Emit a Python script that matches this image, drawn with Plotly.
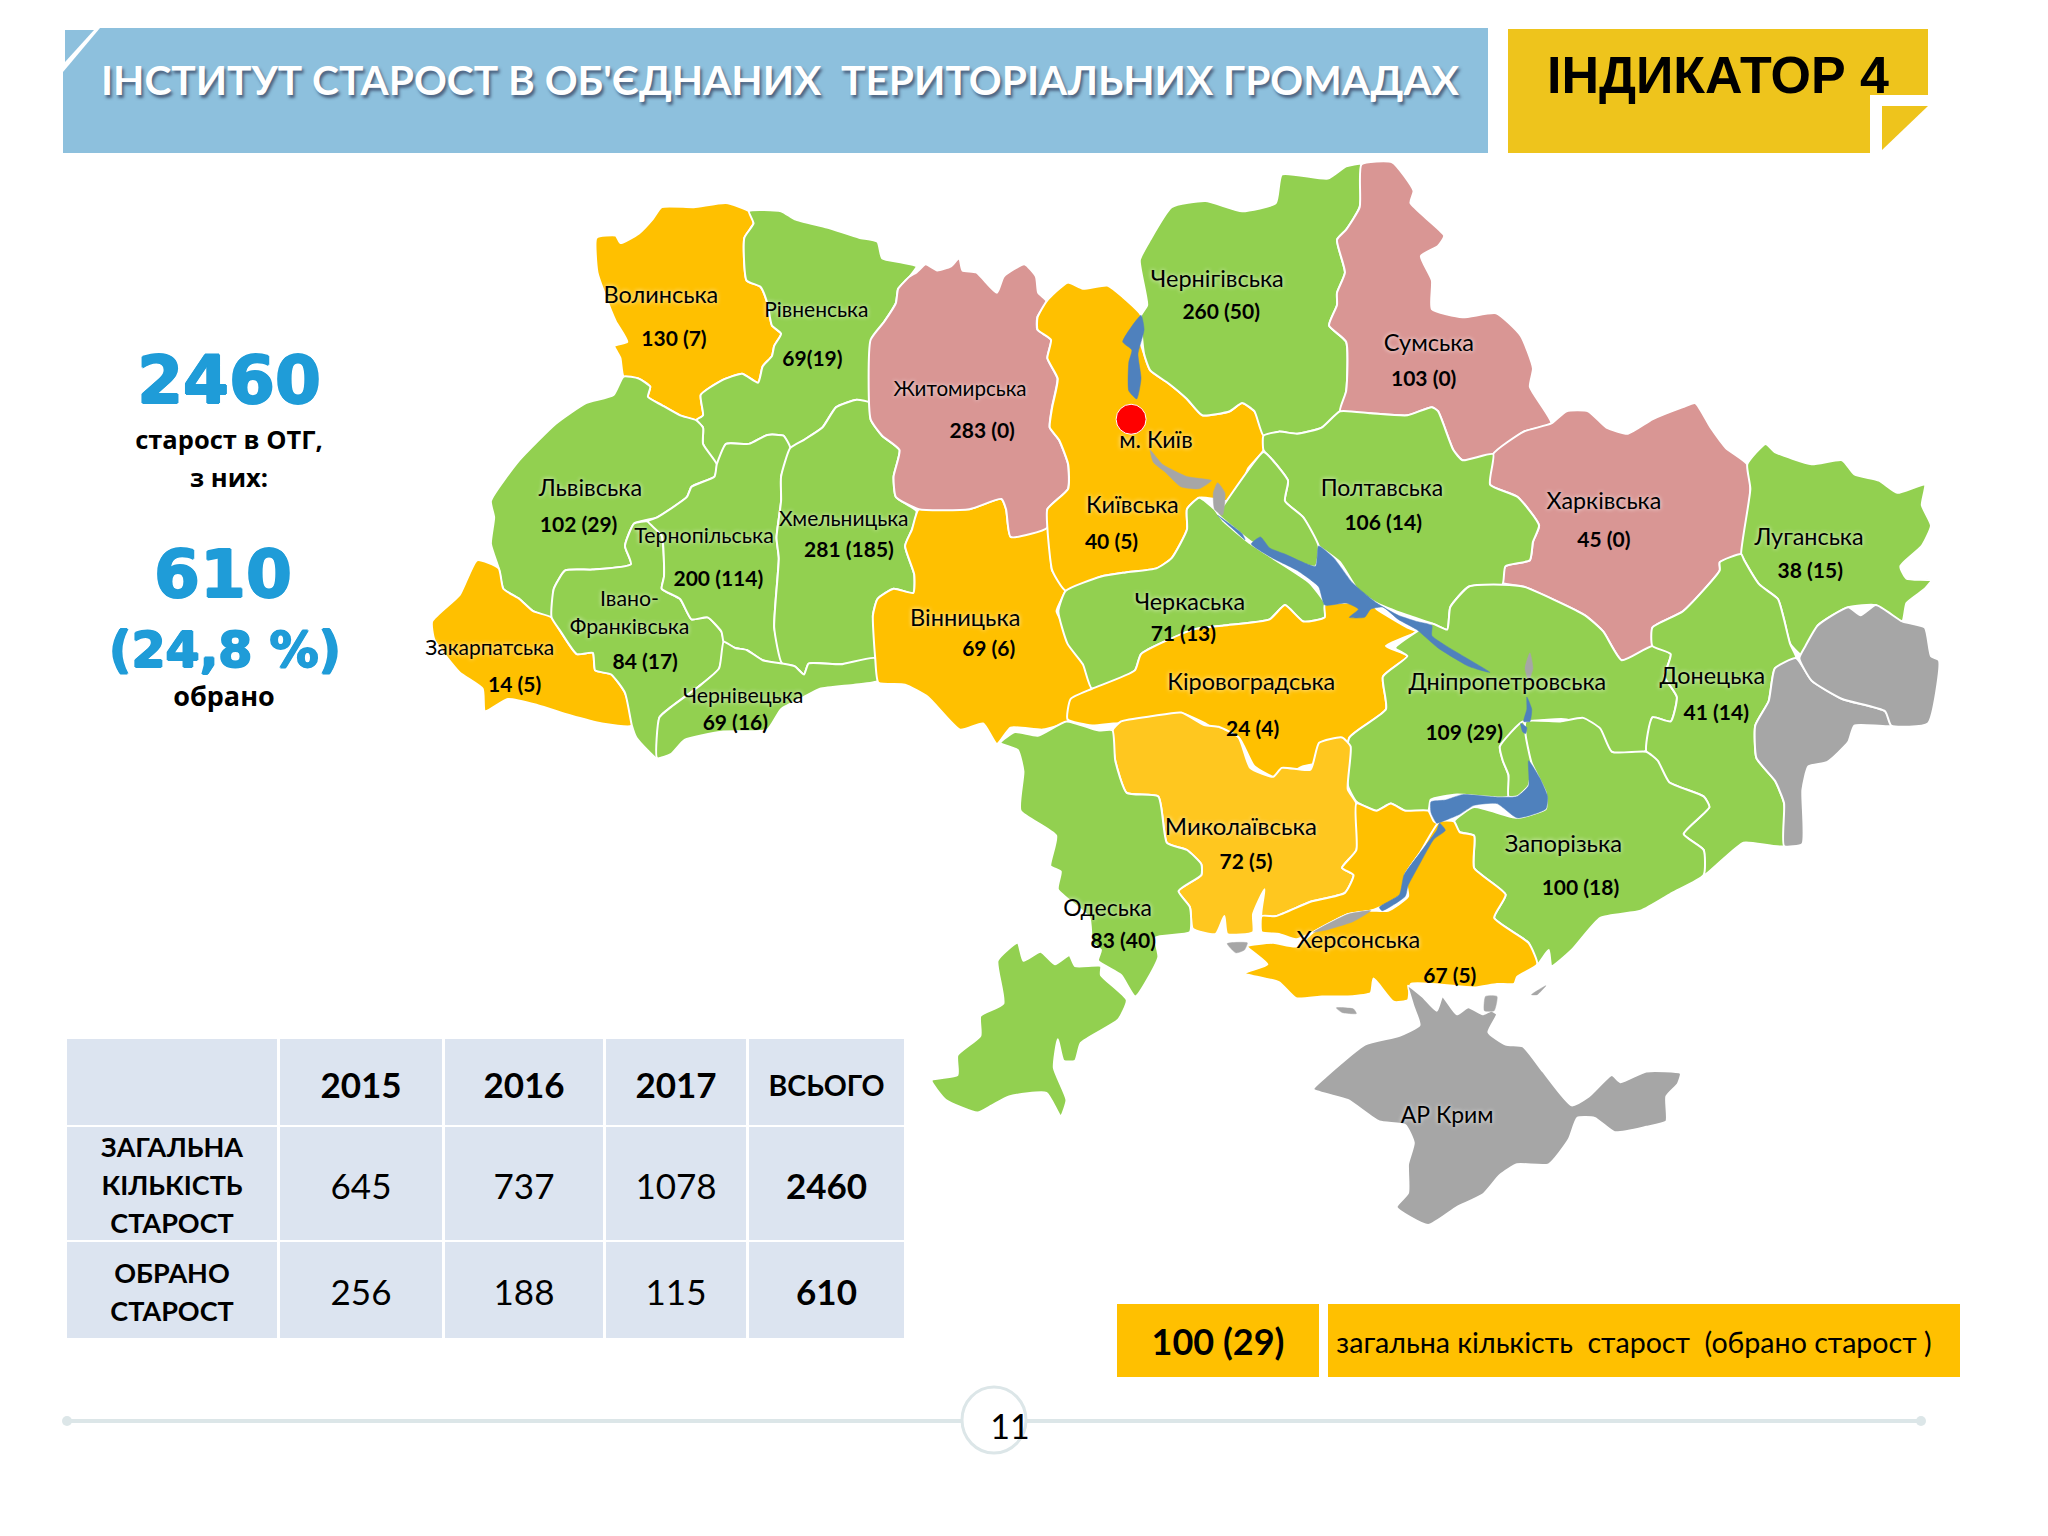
import plotly.graph_objects as go

GREEN = "#92D050"
ORANGE = "#FFC000"
LIGHT_ORANGE = "#FFC71F"
PINK = "#D99694"
GREY = "#A6A6A6"
BLUE = "#4F81BD"
SCALE = 2048 / 1568


# outlines were traced on three crops of the page, each with its own stretch
def west(pts):
    return [(400 + x / 2.178, 150 + y / 2.45) for x, y in pts]


def east(pts):
    return [(1040 + x / 1.633, 150 + y / 2.45) for x, y in pts]


def south(pts):
    return [(900 + x / 1.742, 700 + y / 2.8) for x, y in pts]


volyn = west([(760,150),(770,180),(750,215),(755,320),(785,335),(800,375),(810,430),(830,450),(815,480),(810,505),(790,530),(780,570),(745,548),(700,565),(655,600),(660,650),(645,662),(610,650),(570,625),(540,605),(545,580),(520,560),(487,555),(480,510),(467,480),(495,470),(470,420),(445,350),(430,300),(428,215),(470,210),(480,228),(520,205),(550,170),(570,140),(640,140),(710,130)])
rivne = west([(760,150),(830,150),(860,170),(930,190),(1000,215),(1040,225),(1050,265),(1090,275),(1125,285),(1110,310),(1085,340),(1080,375),(1055,420),(1028,465),(1025,620),(995,612),(950,630),(920,680),(880,710),(850,730),(835,700),(800,698),(760,720),(710,720),(690,770),(660,720),(660,680),(645,662),(660,650),(655,600),(700,565),(745,548),(780,570),(790,530),(810,505),(815,480),(830,450),(810,430),(800,375),(785,335),(755,320),(750,215),(770,180)])
zhytomyr = west([(1125,300),(1145,280),(1170,295),(1200,285),(1218,265),(1225,295),(1255,300),(1300,350),(1315,310),(1360,280),(1385,310),(1390,350),(1408,370),(1388,410),(1388,440),(1418,465),(1410,510),(1432,560),(1420,630),(1415,680),(1435,710),(1455,770),(1455,830),(1410,880),(1410,925),(1330,948),(1320,880),(1310,855),(1240,880),(1130,880),(1080,850),(1075,800),(1088,735),(1050,700),(1025,660),(1025,465),(1055,420),(1080,375),(1085,340),(1110,310)])
lviv = west([(487,555),(520,560),(545,580),(540,605),(570,625),(610,650),(645,662),(660,680),(660,720),(690,770),(685,800),(635,825),(625,850),(560,900),(510,915),(490,970),(503,1015),(420,1028),(360,1030),(335,1075),(330,1145),(290,1130),(260,1100),(225,1075),(215,1025),(198,965),(205,900),(198,860),(260,760),(340,670),(405,620),(465,600)])
zakarpattia = west([(168,1005),(215,1025),(225,1075),(260,1100),(290,1130),(330,1145),(350,1180),(385,1235),(420,1232),(425,1275),(460,1285),(490,1330),(505,1410),(440,1405),(370,1385),(300,1360),(235,1345),(185,1375),(180,1320),(130,1280),(75,1200),(70,1155),(130,1090)])
frankivsk = west([(360,1030),(420,1028),(503,1015),(490,970),(510,915),(540,910),(570,945),(575,1045),(570,1075),(610,1100),(635,1150),(670,1145),(700,1180),(705,1205),(695,1270),(650,1315),(590,1365),(565,1390),(560,1490),(515,1440),(505,1410),(490,1330),(460,1285),(425,1275),(420,1232),(385,1235),(350,1180),(330,1145),(335,1075)])
ternopil = west([(710,720),(760,720),(800,698),(835,700),(850,730),(830,800),(830,860),(820,950),(825,1000),(815,1170),(832,1258),(790,1250),(755,1225),(730,1220),(705,1205),(700,1180),(670,1145),(635,1150),(610,1100),(570,1075),(575,1045),(570,945),(540,910),(560,900),(625,850),(635,825),(685,800),(690,770)])
khmelnytskyi = west([(850,730),(880,710),(920,680),(950,630),(995,612),(1025,620),(1025,660),(1050,700),(1088,735),(1075,800),(1080,850),(1125,885),(1115,930),(1100,970),(1120,1040),(1118,1085),(1075,1075),(1040,1100),(1030,1140),(1035,1245),(960,1260),(890,1258),(880,1285),(860,1265),(832,1258),(815,1170),(825,1000),(820,950),(830,860),(830,800)])
chernivtsi = west([(705,1205),(730,1220),(755,1225),(790,1250),(832,1258),(860,1265),(880,1285),(890,1258),(960,1260),(1035,1245),(1042,1300),(990,1310),(915,1320),(880,1340),(830,1370),(800,1420),(700,1425),(620,1445),(590,1480),(560,1490),(565,1390),(590,1365),(650,1315),(695,1270)])
vinnytsia = west([(1130,880),(1240,880),(1310,855),(1320,880),(1330,948),(1410,925),(1420,1030),(1450,1075),(1430,1130),(1460,1190),(1480,1240),(1505,1300),(1505,1330),(1460,1370),(1455,1400),(1400,1420),(1330,1415),(1300,1455),(1270,1405),(1220,1420),(1150,1340),(1100,1310),(1042,1305),(1035,1245),(1030,1140),(1040,1100),(1075,1075),(1118,1085),(1120,1040),(1100,970),(1115,930)])
kyiv = east([(11,370),(-4,410),(-4,440),(18,465),(12,510),(29,560),(20,630),(16,680),(31,710),(46,770),(46,830),(12,880),(12,925),(20,1030),(42,1080),(100,1045),(140,1035),(190,1025),(215,1000),(240,930),(240,880),(260,852),(285,855),(305,860),(325,840),(340,780),(365,735),(365,690),(350,640),(330,620),(310,640),(265,650),(240,610),(210,572),(180,540),(170,500),(160,450),(165,405),(135,360),(110,332),(70,340),(45,325)])
chernihiv = east([(525,35),(522,140),(500,195),(485,220),(498,300),(485,350),(485,380),(472,430),(500,470),(500,590),(490,640),(460,680),(420,695),(390,690),(365,700),(350,640),(330,620),(310,640),(265,650),(240,610),(210,572),(180,540),(170,500),(165,405),(175,380),(163,270),(180,220),(215,140),(270,125),(330,150),(385,130),(395,60),(470,70),(500,40)])
sumy = east([(525,35),(575,30),(610,100),(605,130),(660,210),(650,235),(622,260),(640,320),(640,390),(690,410),(745,400),(785,455),(805,535),(800,580),(835,670),(790,690),(740,745),(690,760),(675,735),(650,640),(640,630),(600,650),(540,645),(490,640),(500,590),(500,470),(472,430),(485,380),(485,350),(498,300),(485,220),(500,195),(522,140)])
kharkiv = east([(835,670),(860,640),(895,640),(925,680),(960,695),(1000,660),(1050,630),(1070,620),(1095,680),(1120,730),(1155,770),(1160,830),(1145,990),(1110,1010),(1110,1030),(1050,1130),(1000,1170),(1000,1215),(950,1250),(920,1180),(890,1140),(790,1070),(755,1060),(760,1020),(800,1005),(805,960),(815,920),(780,850),(735,820),(740,745),(790,690)])
luhansk = east([(1155,770),(1185,720),(1200,740),(1260,770),(1310,760),(1330,795),(1370,810),(1400,840),(1445,820),(1440,870),(1455,920),(1440,970),(1405,1020),(1415,1050),(1455,1055),(1445,1075),(1415,1110),(1408,1155),(1365,1115),(1320,1120),(1270,1165),(1250,1245),(1225,1210),(1215,1150),(1205,1100),(1175,1065),(1150,1005),(1145,990),(1160,830)])
poltava = east([(365,700),(390,690),(420,695),(460,680),(490,640),(540,645),(600,650),(640,630),(650,640),(675,735),(690,760),(740,745),(735,820),(780,850),(815,920),(805,960),(800,1005),(760,1020),(755,1065),(700,1070),(670,1120),(665,1175),(640,1160),(600,1140),(550,1110),(520,1080),(490,1010),(455,970),(450,960),(430,900),(400,860),(405,810),(380,760),(365,735)])
cherkasy = east([(42,1080),(100,1045),(140,1035),(190,1025),(215,1000),(240,930),(240,880),(260,852),(285,880),(300,910),(340,960),(380,1000),(440,1060),(465,1110),(465,1145),(430,1155),(400,1115),(375,1150),(300,1165),(250,1175),(165,1235),(155,1275),(85,1320),(70,1260),(45,1210),(30,1130)])
cherkasy_east = east([(300,870),(365,740),(380,760),(405,810),(400,860),(430,900),(455,970),(450,1020),(400,1000),(345,960),(320,930),(290,890)])
kirovohrad = east([(465,1115),(540,1110),(550,1125),(600,1170),(615,1180),(565,1215),(600,1240),(560,1290),(565,1370),(505,1440),(500,1520),(480,1500),(430,1510),(390,1540),(350,1510),(325,1440),(300,1435),(270,1405),(230,1380),(190,1400),(120,1405),(85,1410),(45,1395),(50,1345),(85,1320),(155,1275),(165,1235),(250,1175),(300,1165),(375,1150),(400,1115),(430,1155),(465,1145)])
dnipro = east([(615,1180),(580,1220),(600,1240),(560,1290),(565,1370),(505,1440),(503,1558),(517,1597),(549,1619),(573,1601),(596,1619),(634,1619),(638,1592),(681,1579),(765,1584),(765,1531),(756,1496),(751,1461),(788,1409),(800,1400),(860,1395),(915,1430),(930,1470),(960,1490),(990,1470),(1000,1390),(1030,1400),(1040,1340),(1020,1290),(1030,1235),(1000,1215),(950,1250),(920,1180),(890,1140),(790,1070),(755,1065),(700,1070),(670,1120),(665,1175),(640,1160)])
dnipro_strip = south([(1045,130),(1085,60),(1095,100),(1100,175),(1095,240),(1075,270),(1060,270),(1060,210),(1050,170)])
donetsk = east([(1000,1215),(1030,1235),(1020,1290),(1040,1340),(1030,1400),(1000,1390),(990,1474),(1027,1549),(1084,1584),(1093,1610),(1051,1676),(1084,1715),(1084,1776),(1149,1697),(1215,1705),(1215,1600),(1200,1545),(1170,1490),(1168,1410),(1190,1350),(1200,1270),(1235,1245),(1225,1210),(1215,1150),(1205,1100),(1175,1065),(1150,1005),(1145,990),(1110,1010),(1110,1030),(1050,1130),(1000,1170)])
zaporizhzhia = south([(1090,60),(1150,60),(1190,50),(1220,80),(1240,145),(1300,145),(1320,170),(1340,230),(1400,270),(1410,300),(1365,375),(1400,420),(1400,490),(1345,540),(1290,590),(1220,610),(1170,700),(1135,745),(1130,700),(1110,740),(1095,680),(1035,610),(1055,545),(1000,470),(1000,380),(975,370),(965,340),(1000,300),(1075,330),(1125,305),(1125,260),(1100,175),(1090,100)])
mykolaiv = south([(370,85),(385,60),(440,45),(490,35),(530,70),(555,75),(590,105),(610,190),(650,215),(665,190),(715,195),(730,120),(770,105),(785,130),(780,250),(795,290),(795,420),(770,470),(790,490),(775,540),(715,565),(655,605),(630,605),(635,530),(615,600),(615,650),(570,655),(565,605),(550,655),(510,640),(505,580),(485,535),(525,490),(525,460),(500,420),(465,400),(450,270),(395,260),(375,170)])
kherson_north = south([(795,290),(830,310),(855,290),(880,310),(920,310),(930,340),(940,350),(905,430),(880,490),(885,530),(850,570),(820,590),(780,600),(720,650),(690,670),(660,655),(630,650),(630,605),(655,605),(715,565),(775,540),(790,490),(770,470),(795,420)])
kherson_south = south([(940,340),(965,340),(975,370),(1000,380),(1000,470),(1055,545),(1035,610),(1095,680),(1110,740),(1075,775),(1070,795),(1040,795),(1000,805),(890,795),(885,840),(860,845),(825,780),(820,820),(780,830),(735,830),(690,835),(660,790),(600,765),(640,740),(605,690),(650,680),(690,690),(720,650),(780,600),(820,590),(850,590),(885,550),(880,490),(905,430)])
odesa_north = south([(175,120),(200,90),(240,100),(290,60),(345,85),(370,85),(375,170),(395,260),(450,270),(465,400),(500,420),(525,460),(525,490),(485,535),(505,580),(505,650),(445,665),(450,720),(410,830),(385,770),(345,730),(350,700),(335,680),(330,610),(275,530),(280,480),(262,465),(272,380),(210,310),(215,200),(205,140)])
odesa_south = south([(205,680),(215,730),(245,705),(270,740),(295,715),(305,745),(350,745),(350,770),(395,840),(380,895),(315,960),(305,1010),(285,1010),(275,950),(268,1030),(290,1120),(280,1165),(255,1100),(190,1110),(160,1135),(135,1155),(80,1120),(55,1065),(100,1050),(100,995),(140,940),(140,885),(180,850),(170,730)])
crimea = south([(885,800),(910,830),(935,870),(945,830),(970,880),(990,860),(1015,880),(1030,870),(1040,880),(1025,930),(1055,965),(1085,970),(1120,1040),(1170,1135),(1200,1110),(1240,1050),(1255,1070),(1300,1040),(1360,1045),(1355,1075),(1335,1110),(1335,1180),(1300,1195),(1245,1210),(1210,1170),(1180,1170),(1165,1230),(1130,1300),(1075,1300),(1045,1330),(1015,1385),(970,1420),(920,1470),(865,1420),(885,1380),(885,1300),(895,1240),(880,1190),(835,1180),(780,1120),(720,1090),(745,1050),(810,965),(870,940),(905,910),(895,860)])
donetsk_grey = east([(1235,1245),(1260,1300),(1310,1345),(1380,1375),(1390,1410),(1330,1410),(1320,1450),(1285,1500),(1255,1510),(1245,1568),(1245,1700),(1215,1705),(1215,1600),(1200,1545),(1170,1490),(1168,1410),(1190,1350),(1200,1270)])
luhansk_grey = east([(1270,1165),(1320,1120),(1340,1140),(1365,1115),(1408,1155),(1445,1170),(1455,1240),(1468,1250),(1450,1405),(1390,1410),(1380,1375),(1310,1345),(1260,1300),(1240,1245),(1250,1215)])

regions = [
    (volyn, ORANGE), (rivne, GREEN), (lviv, GREEN), (zakarpattia, ORANGE),
    (frankivsk, GREEN), (ternopil, GREEN), (khmelnytskyi, GREEN), (chernivtsi, GREEN),
    (vinnytsia, ORANGE), (zhytomyr, PINK), (kyiv, ORANGE), (chernihiv, GREEN),
    (sumy, PINK), (kharkiv, PINK), (luhansk, GREEN), (poltava, GREEN),
    (cherkasy, GREEN), (cherkasy_east, GREEN), (kirovohrad, ORANGE), (dnipro, GREEN),
    (dnipro_strip, GREEN), (donetsk, GREEN), (zaporizhzhia, GREEN), (mykolaiv, LIGHT_ORANGE),
    (kherson_north, ORANGE), (kherson_south, ORANGE), (odesa_north, GREEN),
    (odesa_south, GREEN), (crimea, GREY), (donetsk_grey, GREY), (luhansk_grey, GREY),
]

# water and small grey patches
water = [
    east([(165,405),(170,440),(160,500),(165,560),(158,610),(145,590),(145,520),(150,490),(135,470)]),
    east([(290,895),(330,940),(335,955),(320,935)]),
    east([(345,965),(360,948),(375,975),(400,990),(450,1020),(455,970),(480,1000),(510,1060),(550,1110),(585,1140),(615,1155),(640,1165),(640,1190),(735,1280),(700,1265),(650,1220),(615,1175),(585,1150),(560,1120),(540,1125),(530,1145),(505,1145),(520,1125),(500,1110),(465,1115),(455,1070),(420,1030),(380,1000)]),
    east([(795,1340),(803,1370),(800,1400),(790,1400),(795,1370)]),
    east([(785,1405),(795,1415),(793,1430),(788,1425)]),
    south([(1095,170),(1115,220),(1128,270),(1125,305),(1075,330),(1040,290),(1000,295),(975,320),(945,340),(935,345),(925,315),(925,285),(950,280),(980,265),(1040,272),(1075,270),(1095,240)]),
    south([(940,345),(950,365),(930,390),(905,460),(885,520),(880,550),(840,590),(835,580),(870,545),(878,490),(905,430),(935,365)]),
]
grey_patches = [
    east([(180,735),(200,770),(240,800),(280,810),(260,830),(230,825),(205,790),(185,765)]),
    east([(290,815),(302,840),(298,895),(285,880),(283,840)]),
    east([(800,1232),(805,1270),(798,1300),(792,1270)]),
    south([(720,650),(780,600),(820,590),(790,620),(740,645)]),
    south([(570,682),(605,680),(600,700),(585,708)]),
    south([(760,862),(790,865),(795,878),(770,875)]),
    south([(1020,830),(1040,830),(1035,870),(1018,870)]),
    south([(1100,825),(1125,800),(1110,825)]),
]

region_names = ["Волинська", "Рівненська", "Житомирська", "Чернігівська", "Сумська", "Львівська",
                "Тернопільська", "Хмельницька", "Київська", "Полтавська", "Харківська", "Луганська",
                "Черкаська", "Вінницька", "Івано-<br>Франківська", "Закарпатська", "Чернівецька",
                "Кіровоградська", "Дніпропетровська", "Донецька", "Запорізька", "Миколаївська",
                "Одеська", "Херсонська", "м. Київ", "АР Крим"]
name_x = [506, 625, 735, 932, 1094, 452, 539, 646, 867, 1058, 1228, 1385, 911, 739, 482, 375, 569, 958, 1154, 1311, 1197, 950, 848, 1040, 885, 1108]
name_y = [226, 237, 298, 214, 263, 374, 410, 397, 387, 374, 384, 411, 461, 473, 469, 496, 533, 522, 522, 518, 646, 633, 695, 720, 337, 854]
name_size = [23.5, 21, 20.6, 23.5, 23.5, 23.5, 21.4, 21, 23.5, 23, 23.3, 23.4, 23.4, 23.6, 21.3, 21, 21.3, 23.5, 23.4, 23.4, 23.8, 24, 23, 23.5, 23.2, 23]

region_values = ["130 (7)", "69(19)", "283 (0)", "260 (50)", "103 (0)", "102 (29)", "200 (114)", "281 (185)",
                 "40 (5)", "106 (14)", "45 (0)", "38 (15)", "71 (13)", "69 (6)", "84 (17)", "14 (5)",
                 "69 (16)", "24 (4)", "109 (29)", "41 (14)", "100 (18)", "72 (5)", "83 (40)", "67 (5)"]
value_x = [516, 622, 752, 935, 1090, 443, 550, 650, 851, 1059, 1228, 1386, 906, 757, 494, 394, 563, 959, 1121, 1314, 1210, 954, 860, 1110]
value_y = [259, 275, 330, 239, 290, 402, 443, 421, 415, 400, 413, 437, 485, 497, 507, 524, 553, 558, 561, 546, 680, 660, 720, 747]

# table on the lower left
table_years = ["2015", "2016", "2017", "ВСЬОГО"]
table_rows = [["ЗАГАЛЬНА", "КІЛЬКІСТЬ", "СТАРОСТ"], ["ОБРАНО", "СТАРОСТ"]]
total_starosty = [645, 737, 1078, 2460]
elected_starosty = [256, 188, 115, 610]
column_edges = [(67, 277), (280, 442), (445, 603), (606, 746), (749, 904)]
row_edges = [(1039, 1125), (1127, 1240), (1242, 1338)]

fig = go.Figure()
shapes = []


def rect(x0, y0, x1, y1, color):
    shapes.append(dict(type="rect", x0=x0, y0=y0, x1=x1, y1=y1, fillcolor=color, line_width=0, layer="below"))


def poly(pts, color, width=0, line_color="white"):
    path = "M" + "L".join(f"{x},{y}" for x, y in pts) + "Z"
    shapes.append(dict(type="path", path=path, fillcolor=color, line=dict(width=width, color=line_color), layer="below"))


def label(x, y, text, size, color="black", family="Lato", bold=False, shadow=None):
    fig.add_trace(go.Scatter(
        x=[x], y=[y], mode="text", text=[text], textposition="middle center",
        textfont=dict(size=size, color=color, family=family, weight="bold" if bold else "normal",
                      shadow=shadow or "none"),
        hoverinfo="skip", showlegend=False))


# header banners
poly([(100, 28), (1488, 28), (1488, 153), (63, 153), (63, 72)], "#8DC0DD")
poly([(65, 30), (94, 30), (65, 62)], "#8DC0DD")
poly([(1508, 29), (1928, 29), (1928, 95), (1870, 95), (1870, 153), (1508, 153)], "#EEC41C")
poly([(1882, 106), (1928, 106), (1882, 150)], "#EEC41C")

# table cells
for y0, y1 in row_edges:
    for x0, x1 in column_edges:
        rect(x0, y0, x1, y1, "#DCE4F0")

# legend boxes
rect(1117, 1304, 1319, 1377, ORANGE)
rect(1328, 1304, 1960, 1377, ORANGE)

# footer rule with page circle
shapes.append(dict(type="line", x0=67, y0=1421, x1=1921, y1=1421, line=dict(color="#DCE6E8", width=4), layer="below"))
shapes.append(dict(type="circle", x0=62, y0=1416, x1=72, y1=1426, fillcolor="#DCE6E8", line_width=0, layer="below"))
shapes.append(dict(type="circle", x0=1916, y0=1416, x1=1926, y1=1426, fillcolor="#DCE6E8", line_width=0, layer="below"))
shapes.append(dict(type="circle", x0=962, y0=1387, x1=1026, y1=1453, fillcolor="white",
                   line=dict(color="#DCE6E8", width=3), layer="below"))

for pts, color in regions:
    fig.add_trace(go.Scatter(
        x=[p[0] for p in pts] + [pts[0][0]], y=[p[1] for p in pts] + [pts[0][1]],
        mode="lines", fill="toself", fillcolor=color,
        line=dict(color="white", width=2, shape="spline", smoothing=0.5),
        hoverinfo="skip", showlegend=False))

for group, color in ((water, BLUE), (grey_patches, GREY)):
    for pts in group:
        fig.add_trace(go.Scatter(
            x=[p[0] for p in pts] + [pts[0][0]], y=[p[1] for p in pts] + [pts[0][1]],
            mode="lines", fill="toself", fillcolor=color,
            line=dict(color=color, width=0.5, shape="spline", smoothing=0.5),
            hoverinfo="skip", showlegend=False))

# Kyiv city marker
fig.add_trace(go.Scatter(
    x=[866 * SCALE], y=[321 * SCALE], mode="markers",
    marker=dict(size=30, color="#FF0000", line=dict(color="white", width=1)),
    hoverinfo="skip", showlegend=False))

GLOW = "0px 0px 4px rgba(255,255,255,0.9)"
for name, x, y, size in zip(region_names, name_x, name_y, name_size):
    label(x * SCALE, y * SCALE + 2, name, size, shadow=GLOW)
for value, x, y in zip(region_values, value_x, value_y):
    label(x * SCALE, y * SCALE + 2, value, 21, bold=True)

# titles
label(780, 85, "ІНСТИТУТ СТАРОСТ В ОБ'ЄДНАНИХ  ТЕРИТОРІАЛЬНИХ ГРОМАДАХ", 40.7, color="white", bold=True,
      shadow="2px 3px 3px rgba(50,60,90,0.7)")
label(1718, 80, "ІНДИКАТОР 4", 52, bold=True, family="Liberation Sans")

# left summary
STAT_BLUE = "#1F9CD8"
THICK = f"1px 0px 0px {STAT_BLUE}, -1px 0px 0px {STAT_BLUE}, 0px 1px 0px {STAT_BLUE}, 0px -1px 0px {STAT_BLUE}"
label(229, 386, "2460", 66, color=STAT_BLUE, family="DejaVu Sans", bold=True, shadow=THICK)
label(229, 443, "старост в ОТГ,", 25.5, family="Open Sans", bold=True)
label(229, 481, "з них:", 25.5, family="Open Sans", bold=True)
label(223, 580, "610", 66, color=STAT_BLUE, family="DejaVu Sans", bold=True, shadow=THICK)
label(225, 655, "(24,8 %)", 49, color=STAT_BLUE, family="DejaVu Sans", bold=True, shadow=THICK)
label(224, 699, "обрано", 27, family="Open Sans", bold=True)

# table text
for i, year in enumerate(table_years):
    x0, x1 = column_edges[i + 1]
    label((x0 + x1) / 2, sum(row_edges[0]) / 2 + 7, year, 35 if i < 3 else 28.5, bold=True)
for j, (row, values) in enumerate(zip(table_rows, (total_starosty, elected_starosty))):
    y = sum(row_edges[j + 1]) / 2
    for k, line in enumerate(row):
        label(sum(column_edges[0]) / 2, y + 5 + (k - (len(row) - 1) / 2) * 37.8, line, 27, bold=True)
    for i, value in enumerate(values):
        label(sum(column_edges[i + 1]) / 2, y + 6.5, str(value), 35, bold=i == 3)

# legend and page number
label(1218, 1346, "100 (29)", 36, bold=True)
label(1634, 1346, "загальна кількість  старост  (обрано старост )", 28.6)
label(1010, 1430, "11", 34)

fig.update_xaxes(visible=False, range=[0, 2048], fixedrange=True)
fig.update_yaxes(visible=False, range=[1536, 0], fixedrange=True)
fig.update_layout(
    width=2048, height=1536, margin=dict(l=0, r=0, t=0, b=0),
    paper_bgcolor="white", plot_bgcolor="white", shapes=shapes, showlegend=False)

fig.write_html("out.html", config={"displayModeBar": False}, post_script="document.body.style.margin='0';")
